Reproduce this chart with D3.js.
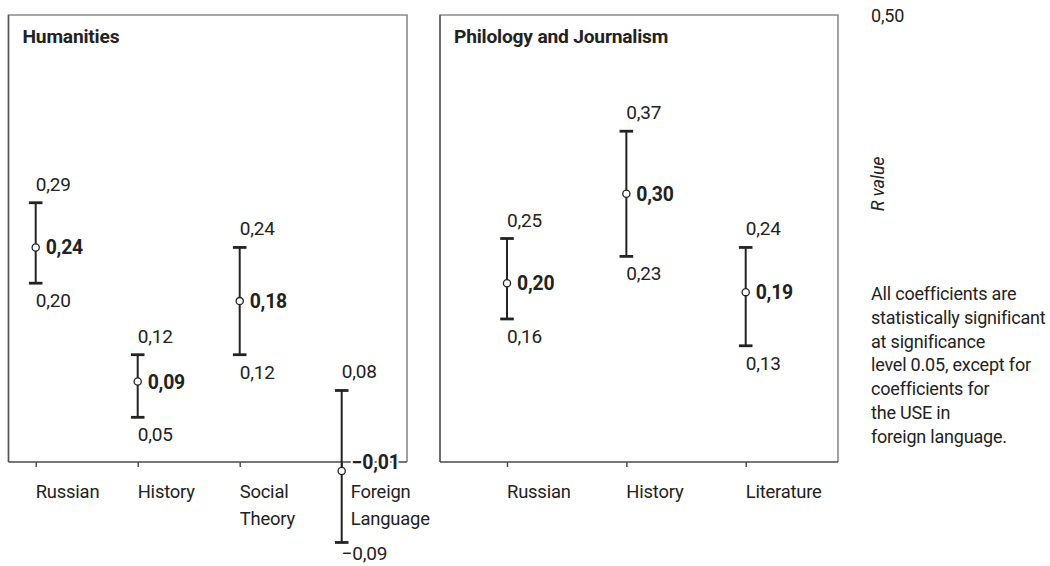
<!DOCTYPE html>
<html>
<head>
<meta charset="utf-8">
<script src="https://cdn.jsdelivr.net/npm/d3@7"></script>
<style>
  body { margin: 0; background: #fff; }
  svg text { font-family: Roboto, "Liberation Sans", sans-serif; fill: #222; letter-spacing: -0.2px; }
</style>
</head>
<body>
<svg id="chart" width="1050" height="566"></svg>
<script>
// Humanities: correlation coefficients with 95% confidence bounds
const humCategories = ["Russian", "History", "Social\nTheory", "Foreign\nLanguage"];
const humR    = [0.24, 0.09, 0.18, -0.01];
const humLow  = [0.20, 0.05, 0.12, -0.09];
const humHigh = [0.29, 0.12, 0.24,  0.08];

// Philology and Journalism
const philCategories = ["Russian", "History", "Literature"];
const philR    = [0.20, 0.30, 0.19];
const philLow  = [0.16, 0.23, 0.13];
const philHigh = [0.25, 0.37, 0.24];

const yDomain = [0, 0.5];
const yTickValues = [0.5];
const yAxisTitle = "R value";
const noteLines = [
  "All coefficients are",
  "statistically significant",
  "at significance",
  "level 0.05, except for",
  "coefficients for",
  "the USE in",
  "foreign language."
];

const ruLocale = d3.formatLocale({
  decimal: ",", thousands: "\u00a0", grouping: [3],
  currency: ["", ""], minus: "\u2212"
});
const fmt = ruLocale.format(".2f");

const svg = d3.select("#chart");
const ink = "#232323";
const H = 566;

const y = d3.scaleLinear().domain(yDomain).range([462, 15]);

const panels = [
  { title: "Humanities", cats: humCategories, r: humR, lo: humLow, hi: humHigh,
    box: [8.5, 407], pts: [35.7, 341.7] },
  { title: "Philology and Journalism", cats: philCategories, r: philR, lo: philLow, hi: philHigh,
    box: [440, 838], pts: [507, 745.7] }
];

panels.forEach(p => {
  const g = svg.append("g");
  const x = d3.scalePoint().domain(p.cats).range(p.pts);
  const top = y(yDomain[1]), bottom = y(yDomain[0]);

  // frame: light top/right, darker left
  g.append("path")
    .attr("d", `M${p.box[0]},${bottom}V${top}H${p.box[1]}V${bottom}`)
    .attr("fill", "none").attr("stroke", "#8a8a8a").attr("stroke-width", 1.6);
  g.append("line")
    .attr("x1", p.box[0]).attr("x2", p.box[0]).attr("y1", top).attr("y2", bottom)
    .attr("stroke", "#555").attr("stroke-width", 1.4);

  // category axis
  const axis = g.append("g")
    .attr("transform", `translate(0,${bottom})`)
    .call(d3.axisBottom(x).tickSize(5).tickSizeOuter(0).tickFormat(""));
  axis.select(".domain").remove();
  axis.selectAll(".tick line").attr("stroke", "#444").attr("stroke-width", 1.4);
  g.append("line")
    .attr("x1", p.box[0]).attr("x2", p.box[1]).attr("y1", bottom).attr("y2", bottom)
    .attr("stroke", "#4a4a4a").attr("stroke-width", 1.6);

  // category labels, left-aligned at the tick; nudged right when a bar crosses the axis
  p.cats.forEach((c, i) => {
    const shift = p.lo[i] < 0 ? 9 : 0;
    const t = g.append("text")
      .attr("x", x(c) + shift).attr("y", bottom + 35.5)
      .attr("font-size", 18.4).attr("text-anchor", "start");
    c.split("\n").forEach((line, k) => {
      t.append("tspan").attr("x", x(c) + shift).attr("dy", k === 0 ? 0 : 27).text(line);
    });
  });

  // title
  g.append("text")
    .attr("x", p.box[0] + 14).attr("y", 43)
    .attr("font-size", 19.2).attr("font-weight", 700)
    .text(p.title);

  // error bars
  const items = p.cats.map((c, i) => ({ c, r: p.r[i], lo: p.lo[i], hi: p.hi[i] }));
  const bars = g.selectAll(".bar").data(items).join("g").attr("class", "bar");

  bars.append("line")
    .attr("x1", d => x(d.c)).attr("x2", d => x(d.c))
    .attr("y1", d => y(d.lo)).attr("y2", d => y(d.hi))
    .attr("stroke", ink).attr("stroke-width", 2);
  ["lo", "hi"].forEach(k => {
    bars.append("line")
      .attr("x1", d => x(d.c) - 6.8).attr("x2", d => x(d.c) + 6.8)
      .attr("y1", d => y(d[k])).attr("y2", d => y(d[k]))
      .attr("stroke", ink).attr("stroke-width", 2.8);
  });

  bars.append("text")
    .attr("x", d => x(d.c)).attr("y", d => y(d.hi) - 12)
    .attr("font-size", 19)
    .text(d => fmt(d.hi));
  bars.append("text")
    .attr("x", d => x(d.c)).attr("y", d => Math.min(y(d.lo) + 24, H - 6))
    .attr("font-size", 19)
    .text(d => fmt(d.lo));

  // point estimate label; kept at the axis line when the estimate dips just below it
  bars.append("text")
    .attr("x", d => x(d.c) + 10).attr("y", d => Math.min(y(d.r), bottom) + 7)
    .attr("font-size", 19.4).attr("font-weight", 700)
    .attr("stroke", "#fff").attr("stroke-width", 4).attr("paint-order", "stroke")
    .text(d => fmt(d.r));

  bars.append("circle")
    .attr("cx", d => x(d.c)).attr("cy", d => y(d.r)).attr("r", 3.6)
    .attr("fill", "#fff").attr("stroke", ink).attr("stroke-width", 1.3);
});

// value scale reference on the right
yTickValues.forEach(v => {
  svg.append("text")
    .attr("x", 871).attr("y", y(v) + 7)
    .attr("font-size", 18)
    .text(fmt(v));
});
svg.append("text")
  .attr("transform", "translate(884,184) rotate(-90)")
  .attr("text-anchor", "middle")
  .attr("font-size", 18).attr("font-style", "italic")
  .text(yAxisTitle);

// footnote
const note = svg.append("text").attr("x", 871).attr("y", 300).attr("font-size", 18);
noteLines.forEach((line, i) => {
  note.append("tspan").attr("x", 871).attr("dy", i === 0 ? 0 : 23.8).text(line);
});
</script>
</body>
</html>
